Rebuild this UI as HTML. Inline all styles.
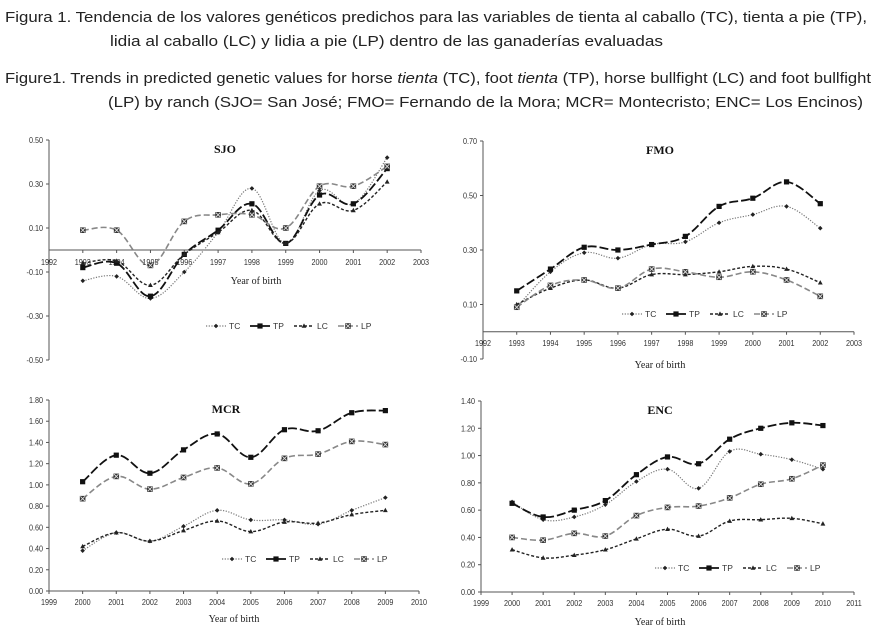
<!DOCTYPE html>
<html><head><meta charset="utf-8"><style>
body{margin:0;background:#fff;}
svg{display:block;font-family:"Liberation Sans",sans-serif;}
</style></head><body>
<svg id="fig" width="875" height="635" viewBox="0 0 875 635">
<g font-size="15" fill="#222">
<text x="5" y="22" textLength="862" lengthAdjust="spacingAndGlyphs">Figura 1.    Tendencia de los valores genéticos predichos para las variables de tientа al caballo (TC), tienta a pie (TP),</text>
<text x="110" y="46" textLength="553" lengthAdjust="spacingAndGlyphs">lidia al caballo (LC) y lidia a pie (LP) dentro de las ganaderías evaluadas</text>
<text x="5" y="83" textLength="866" lengthAdjust="spacingAndGlyphs">Figure1.  Trends in predicted genetic values for horse <tspan font-style="italic">tienta</tspan> (TC), foot <tspan font-style="italic">tienta</tspan> (TP), horse bullfight (LC) and foot bullfight</text>
<text x="108" y="107" textLength="755" lengthAdjust="spacingAndGlyphs">(LP) by ranch (SJO= San José; FMO= Fernando de la Mora; MCR= Montecristo; ENC= Los Encinos)</text>
</g>
</svg>
<script>
const sjoYears=[1993,1994,1995,1996,1997,1998,1999,2000,2001,2002];
const sjoTC=[-0.14,-0.12,-0.22,-0.10,0.08,0.28,0.03,0.27,0.21,0.42];
const sjoTP=[-0.08,-0.06,-0.21,-0.02,0.09,0.21,0.03,0.25,0.21,0.37];
const sjoLC=[-0.06,-0.05,-0.16,-0.02,0.08,0.18,0.03,0.21,0.18,0.31];
const sjoLP=[0.09,0.09,-0.07,0.13,0.16,0.16,0.10,0.29,0.29,0.38];
const sjoYTicks=[-0.5,-0.3,-0.1,0.1,0.3,0.5];
const fmoYears=[1993,1994,1995,1996,1997,1998,1999,2000,2001,2002];
const fmoTC=[0.09,0.22,0.29,0.27,0.32,0.33,0.40,0.43,0.46,0.38];
const fmoTP=[0.15,0.23,0.31,0.30,0.32,0.35,0.46,0.49,0.55,0.47];
const fmoLC=[0.10,0.16,0.19,0.16,0.21,0.21,0.22,0.24,0.23,0.18];
const fmoLP=[0.09,0.17,0.19,0.16,0.23,0.22,0.20,0.22,0.19,0.13];
const fmoYTicks=[-0.1,0.1,0.3,0.5,0.7];
const mcrYears=[2000,2001,2002,2003,2004,2005,2006,2007,2008,2009];
const mcrTC=[0.38,0.55,0.47,0.61,0.76,0.67,0.67,0.63,0.76,0.88];
const mcrTP=[1.03,1.28,1.11,1.33,1.48,1.26,1.52,1.51,1.68,1.70];
const mcrLC=[0.42,0.55,0.47,0.57,0.66,0.56,0.65,0.64,0.72,0.76];
const mcrLP=[0.87,1.08,0.96,1.07,1.16,1.01,1.25,1.29,1.41,1.38];
const mcrYTicks=[0,0.2,0.4,0.6,0.8,1.0,1.2,1.4,1.6,1.8];
const encYears=[2000,2001,2002,2003,2004,2005,2006,2007,2008,2009,2010];
const encTC=[0.66,0.53,0.55,0.64,0.81,0.90,0.76,1.03,1.01,0.97,0.90];
const encTP=[0.65,0.55,0.60,0.67,0.86,0.99,0.94,1.12,1.20,1.24,1.22];
const encLC=[0.31,0.25,0.27,0.31,0.39,0.46,0.41,0.52,0.53,0.54,0.50];
const encLP=[0.40,0.38,0.43,0.41,0.56,0.62,0.63,0.69,0.79,0.83,0.93];
const encYTicks=[0,0.2,0.4,0.6,0.8,1.0,1.2,1.4];
const seriesNames=["TC","TP","LC","LP"];

const NS="http://www.w3.org/2000/svg";
const svg=document.getElementById('fig');
function mk(tag,attrs,parent){const e=document.createElementNS(NS,tag);for(const k in attrs)e.setAttribute(k,attrs[k]);parent.appendChild(e);return e;}
const styles={
 TC:{stroke:"#777",dash:"1.2,1.5",w:1.2},
 TP:{stroke:"#111",dash:"9,3",w:1.8},
 LC:{stroke:"#222",dash:"3,2",w:1.4},
 LP:{stroke:"#888",dash:"6,3",w:1.6}
};
function marker(type,x,y,g){
 let m;
 if(type==="TC"){m=mk('path',{d:`M${x} ${y-2.3}L${x+2.3} ${y}L${x} ${y+2.3}L${x-2.3} ${y}Z`,fill:"#222"},g);}
 else if(type==="TP"){m=mk('rect',{x:x-2.6,y:y-2.6,width:5.2,height:5.2,fill:"#111"},g);}
 else if(type==="LC"){m=mk('path',{d:`M${x} ${y-2.6}L${x+2.4} ${y+1.8}L${x-2.4} ${y+1.8}Z`,fill:"#222"},g);}
 else {m=mk('g',{},g);mk('rect',{x:x-2.8,y:y-2.8,width:5.6,height:5.6,fill:"#333"},m);mk('path',{d:`M${x-2.2} ${y-2.2}L${x+2.2} ${y+2.2}M${x+2.2} ${y-2.2}L${x-2.2} ${y+2.2}`,stroke:"#ddd","stroke-width":0.9},m);}
 
 
}
function smooth(pts){
 let d=`M${pts[0][0]} ${pts[0][1]}`;
 for(let i=0;i<pts.length-1;i++){
  const p0=pts[i-1]||pts[i],p1=pts[i],p2=pts[i+1],p3=pts[i+2]||p2;
  const t=0.18;
  const c1=[p1[0]+(p2[0]-p0[0])*t,p1[1]+(p2[1]-p0[1])*t];
  const c2=[p2[0]-(p3[0]-p1[0])*t,p2[1]-(p3[1]-p1[1])*t];
  d+=`C${c1[0]} ${c1[1]} ${c2[0]} ${c2[1]} ${p2[0]} ${p2[1]}`;
 }
 return d;
}
function chart(cfg){
 const g=mk('g',{},svg);
 
 
 const X=v=>cfg.x0+(v-cfg.xmin)/(cfg.xmax-cfg.xmin)*(cfg.x1-cfg.x0);
 const Y=v=>cfg.y0+(v-cfg.ymin)/(cfg.ymax-cfg.ymin)*(cfg.y1-cfg.y0);
 // y axis
 const ya=mk('line',{x1:cfg.x0,x2:cfg.x0,y1:Y(cfg.ymin),y2:Y(cfg.ymax),stroke:"#555","stroke-width":1},g);
 
 
 cfg.yticks.forEach(v=>{
  mk('line',{x1:cfg.x0-3,x2:cfg.x0,y1:Y(v),y2:Y(v),stroke:"#555"},g);
  const t=mk('text',{x:cfg.x0-6,y:Y(v)+3,"font-size":8.5,"text-anchor":"end",fill:"#333",transform:`translate(${cfg.x0-6} 0) scale(0.85 1) translate(${-(cfg.x0-6)} 0)`},g);
  t.textContent=v.toFixed(2);
  
  
 });
 const xy=Y(cfg.xaxisAt);
 const xa=mk('line',{x1:cfg.x0,x2:X(cfg.xmax),y1:xy,y2:xy,stroke:"#555","stroke-width":1},g);
 
 
 for(let yr=cfg.xmin;yr<=cfg.xmax;yr++){
  mk('line',{x1:X(yr),x2:X(yr),y1:xy,y2:xy+3,stroke:"#555"},g);
  const t=mk('text',{x:X(yr),y:cfg.xlabY,"font-size":8.5,"text-anchor":"middle",fill:"#333",transform:`translate(${X(yr)} 0) scale(0.85 1) translate(${-X(yr)} 0)`},g);
  t.textContent=yr;
  
  
 }
 const xt=mk('text',{x:cfg.xtitle[0],y:cfg.xtitle[1],"font-size":10,"text-anchor":"middle","font-family":"Liberation Serif, serif",fill:"#222"},g);
 xt.textContent="Year of birth";
 
 
 const tt=mk('text',{x:cfg.title[0],y:cfg.title[1],"font-size":12,"font-weight":"bold","text-anchor":"middle","font-family":"Liberation Serif, serif",fill:"#111"},g);
 tt.textContent=cfg.name;
 
 
 cfg.series.forEach((vals,si)=>{
  const nm=seriesNames[si],st=styles[nm];
  const pts=vals.map((v,i)=>[X(cfg.years[i]),Y(v)]);
  const sg=mk('g',{},g);
  
  
  mk('path',{d:smooth(pts),fill:"none",stroke:st.stroke,"stroke-width":st.w,"stroke-dasharray":st.dash},sg);
  pts.forEach(p=>marker(nm,p[0],p[1],sg));
 });
 // legend
 const lg=mk('g',{},g);
 
 
 const lx=cfg.legend[0],ly=cfg.legend[1];
 seriesNames.forEach((nm,i)=>{
  const st=styles[nm],bx=lx+i*44;
  const e=mk('g',{},lg);
  
  
  mk('line',{x1:bx,x2:bx+20,y1:ly,y2:ly,stroke:st.stroke,"stroke-width":st.w,"stroke-dasharray":st.dash},e);
  marker(nm,bx+10,ly,e);
  const t=mk('text',{x:bx+23,y:ly+3,"font-size":8.5,fill:"#333"},e);
  t.textContent=nm;
 });
}
chart({name:"SJO",years:sjoYears,series:[sjoTC,sjoTP,sjoLC,sjoLP],yticks:sjoYTicks,x0:49,x1:421,xmin:1992,xmax:2003,y0:360,y1:140,ymin:-0.5,ymax:0.5,xaxisAt:0,xlabY:265,xtitle:[256,284],title:[225,153],legend:[206,326]});
chart({name:"FMO",years:fmoYears,series:[fmoTC,fmoTP,fmoLC,fmoLP],yticks:fmoYTicks,x0:483,x1:854,xmin:1992,xmax:2003,y0:359,y1:141,ymin:-0.1,ymax:0.7,xaxisAt:0,xlabY:346,xtitle:[660,368],title:[660,154],legend:[622,314]});
chart({name:"MCR",years:mcrYears,series:[mcrTC,mcrTP,mcrLC,mcrLP],yticks:mcrYTicks,x0:49,x1:419,xmin:1999,xmax:2010,y0:591,y1:400,ymin:0,ymax:1.8,xaxisAt:0,xlabY:605,xtitle:[234,622],title:[226,413],legend:[222,559]});
chart({name:"ENC",years:encYears,series:[encTC,encTP,encLC,encLP],yticks:encYTicks,x0:481,x1:854,xmin:1999,xmax:2011,y0:592,y1:401,ymin:0,ymax:1.4,xaxisAt:0,xlabY:606,xtitle:[660,625],title:[660,414],legend:[655,568]});
</script>
</body></html>
